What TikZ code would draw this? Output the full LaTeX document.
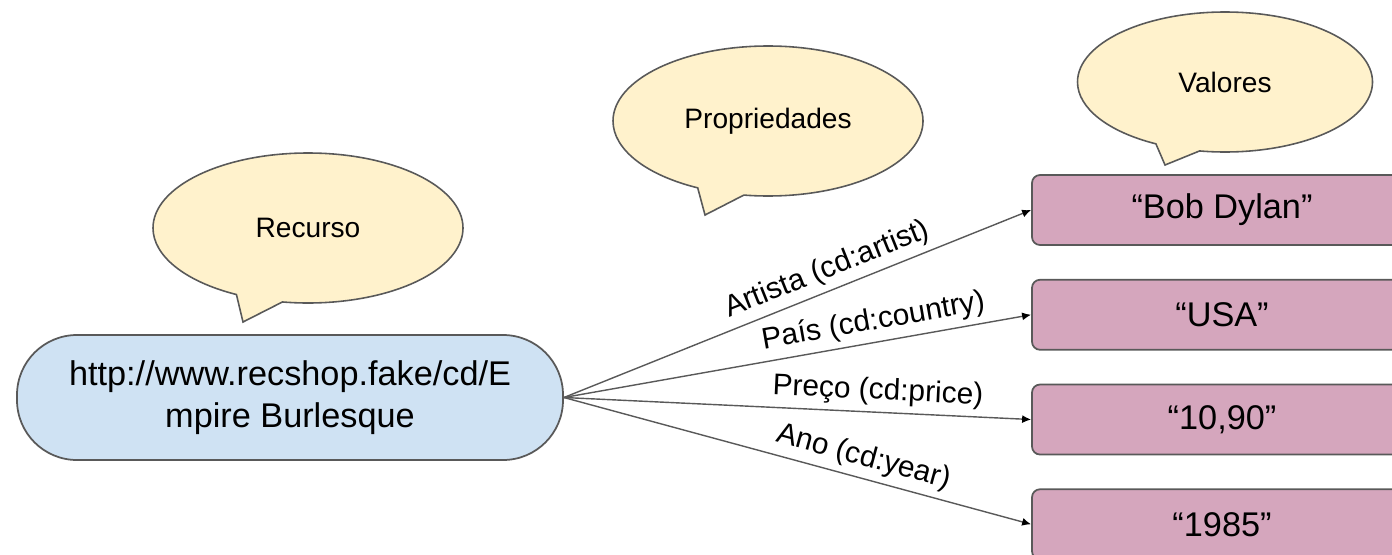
\documentclass[tikz,border=0pt]{standalone}
\usepackage{fontspec}
\setmainfont{Liberation Sans}
\usepackage{tikz}
\usetikzlibrary{arrows.meta,positioning,shapes.callouts}
\definecolor{bubblefill}{HTML}{FFF2CC}
\definecolor{resfill}{HTML}{CFE2F3}
\definecolor{valfill}{HTML}{D5A6BD}
\definecolor{edgegray}{HTML}{595959}

\begin{document}
\begin{tikzpicture}[
  node distance=6.6mm,
  every node/.style={align=center},
  bubble/.style={ellipse callout,draw=edgegray,fill=bubblefill,line width=0.9pt,minimum width=6.2cm,minimum height=3cm,callout pointer arc=18,font=\fontsize{16}{19}\selectfont},
  res/.style={draw=edgegray,fill=resfill,line width=1pt,rounded corners=1.2cm,minimum width=10.92cm,minimum height=2.5cm,font=\fontsize{19.5}{24}\selectfont},
  val/.style={draw=edgegray,fill=valfill,line width=1pt,rounded corners=1.6mm,minimum width=7.6cm,minimum height=1.4cm,font=\fontsize{19.5}{24}\selectfont},
  lbl/.style={font=\fontsize{17}{20}\selectfont,sloped,above},
  arr/.style={-{Latex[length=1.8mm,width=1.6mm,color=black]},draw=edgegray,line width=0.8pt}
]
\useasboundingbox (0,0) rectangle (27.84,-11.08);

\node[res] (res) at (5.8,-7.95) {http://www.recshop.fake/cd/E\\mpire Burlesque};

\node[val] (artist) at (24.44,-4.2) {“Bob Dylan”};
\node[val,below=of artist] (country) {“USA”};
\node[val,below=of country] (price) {“10,90”};
\node[val,below=of price] (year) {“1985”};

% baloes
\node[bubble,callout absolute pointer={(4.86,-6.44)}] (recurso) at (6.16,-4.56) {Recurso};
\node[bubble,callout absolute pointer={(14.1,-4.3)}] (props) at (15.36,-2.42) {Propriedades};
\node[bubble,minimum width=5.9cm,minimum height=2.8cm,callout absolute pointer={(23.3,-3.3)}] (valores) at (24.5,-1.64) {Valores};

\draw[arr] (res.east)--node[lbl,pos=0.58]{Artista (cd:artist)}(artist.west);
\draw[arr] (res.east)--node[lbl,pos=0.67]{País (cd:country)}(country.west);
\draw[arr] (res.east)--node[lbl,pos=0.67]{Preço (cd:price)}(price.west);
\draw[arr] (res.east)--node[lbl,pos=0.63]{Ano (cd:year)}(year.west);
\end{tikzpicture}
\end{document}
